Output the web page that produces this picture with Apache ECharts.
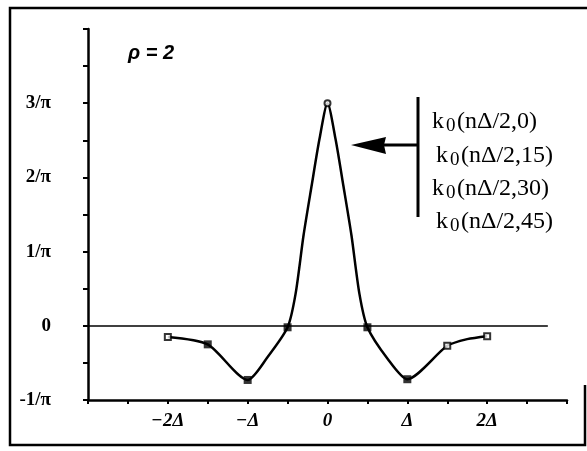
<!DOCTYPE html>
<html>
<head>
<meta charset="utf-8">
<script src="https://cdn.jsdelivr.net/npm/echarts@6/dist/echarts.min.js"></script>
<style>
  html, body { margin: 0; padding: 0; background: #fff; }
  #main { width: 587px; height: 451px; }
</style>
</head>
<body>
<div id="main"></div>
<script>
// x in units of Δ, y in units of 1/π
var curveX = [-2, -1.5, -1, -0.75, -0.5, -0.4, -0.3, -0.2, -0.1, 0, 0.1, 0.2, 0.3, 0.4, 0.5, 0.75, 1, 1.5, 1.75, 2]
var curveY = [-0.15, -0.25, -0.73, -0.42, -0.02, 0.43, 1.22, 1.88, 2.52, 3.0, 2.52, 1.88, 1.22, 0.43, -0.02, -0.44, -0.72, -0.27, -0.18, -0.14]

// sample points k0(nΔ/2, ...)
var sampleX = [-2, -1.5, -1, -0.5, 0, 0.5, 1, 1.5, 2]
var sampleY = [-0.15, -0.25, -0.73, -0.02, 3.0, -0.02, -0.72, -0.27, -0.14]
var sampleOpen = [true, false, false, false, true, false, false, true, true]

var xTickLabels = { '-2': '−2Δ', '-1': '−Δ', '0': '0', '1': 'Δ', '2': '2Δ' }
var yTickLabels = { '-1': '-1/π', '0': '0', '1': '1/π', '2': '2/π', '3': '3/π' }

var legendNames = ['(nΔ/2,0)', '(nΔ/2,15)', '(nΔ/2,30)', '(nΔ/2,45)']

var chart = echarts.init(document.getElementById('main'))

var curveData = curveX.map(function (x, i) { return [x, curveY[i]] })
var sampleData = sampleX.map(function (x, i) {
  var open = sampleOpen[i]
  return {
    value: [x, sampleY[i]],
    symbol: x === 0 ? 'circle' : 'rect',
    symbolSize: open ? 6 : 8,
    itemStyle: {
      color: open ? '#fff' : '#000',
      borderColor: '#000',
      borderWidth: open ? 2 : 0
    }
  }
})

// legend rows (baseline y)
var legendX = [432, 436, 432, 436]
var legendY = [110, 144, 177, 210]
var legendGraphics = []
legendNames.forEach(function (name, i) {
  var font = '24px "Liberation Serif"'
  legendGraphics.push({ type: 'text', x: legendX[i], y: legendY[i], style: { text: 'k', font: font, fill: '#000', verticalAlign: 'alphabetic' } })
  legendGraphics.push({ type: 'text', x: legendX[i] + 14, y: legendY[i] + 7, style: { text: '0', font: '19px "Liberation Serif"', fill: '#000', verticalAlign: 'alphabetic' } })
  legendGraphics.push({ type: 'text', x: legendX[i] + 25, y: legendY[i], style: { text: name, font: font, fill: '#000', verticalAlign: 'alphabetic' } })
})

var option = {
  animation: false,
  backgroundColor: '#fff',
  grid: { left: 88, right: 20, top: 29, bottom: 51 },
  xAxis: {
    type: 'value',
    min: -3,
    max: 3,
    interval: 0.5,
    splitLine: { show: false },
    axisLine: { onZero: false, lineStyle: { color: '#000', width: 2.5 } },
    axisTick: { length: 4, lineStyle: { color: '#000', width: 2 } },
    axisLabel: {
      margin: 12,
      color: '#000',
      fontFamily: 'Liberation Serif',
      fontStyle: 'italic',
      fontWeight: 'bold',
      fontSize: 19,
      showMinLabel: true,
      showMaxLabel: true,
      formatter: function (v) { return xTickLabels[String(v)] || '' }
    }
  },
  yAxis: {
    type: 'value',
    min: -1,
    max: 4,
    interval: 0.5,
    splitLine: { show: false },
    axisLine: { onZero: false, lineStyle: { color: '#000', width: 2.5 } },
    axisTick: { length: 5, lineStyle: { color: '#000', width: 2 } },
    axisLabel: {
      margin: 37,
      color: '#000',
      fontFamily: 'Liberation Serif',
      fontWeight: 'bold',
      fontSize: 19,
      formatter: function (v) { return yTickLabels[String(v)] || '' }
    }
  },
  series: [
    {
      type: 'line',
      data: curveData,
      smooth: 0.25,
      showSymbol: false,
      lineStyle: { color: '#000', width: 2.5 },
      markLine: {
        silent: true,
        symbol: 'none',
        label: { show: false },
        lineStyle: { color: '#000', width: 1.5, type: 'solid' },
        data: [[{ coord: [-3, 0] }, { coord: [2.76, 0] }]]
      }
    },
    {
      type: 'scatter',
      data: sampleData,
      z: 5
    }
  ],
  graphic: [
    // outer frame
    { type: 'polyline', shape: { points: [[587, 8], [10, 8], [10, 445], [585, 445], [585, 385]] }, style: { stroke: '#000', lineWidth: 2.5, fill: null } },
    { type: 'text', left: 128, top: 43, style: { text: 'ρ = 2', font: 'italic bold 20px "Liberation Sans"', fill: '#000' } },
    // legend bar and arrow
    { type: 'line', shape: { x1: 418, y1: 97, x2: 418, y2: 217 }, style: { stroke: '#000', lineWidth: 3 } },
    { type: 'line', shape: { x1: 380, y1: 145, x2: 418, y2: 145 }, style: { stroke: '#000', lineWidth: 3 } },
    { type: 'polygon', shape: { points: [[351, 145], [386, 137], [384, 145], [386, 154]] }, style: { fill: '#000' } }
  ].concat(legendGraphics)
}

chart.setOption(option)
</script>
</body>
</html>
